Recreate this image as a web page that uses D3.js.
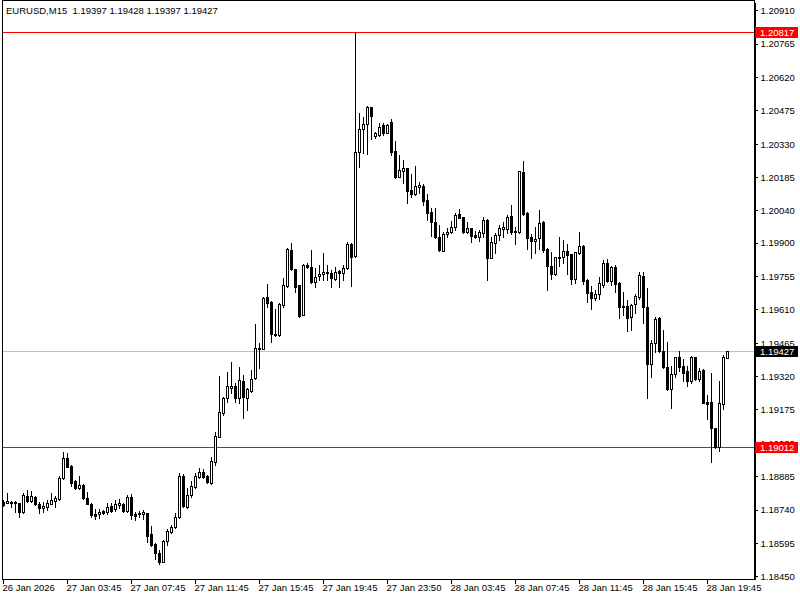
<!DOCTYPE html>
<html>
<head>
<meta charset="utf-8">
<script src="https://cdn.jsdelivr.net/npm/d3@7"></script>
<style>
  html, body { margin: 0; padding: 0; background: #ffffff; }
  svg text { font-family: "Liberation Sans", Arial, sans-serif; font-size: 9.5px; fill: #000; }
</style>
</head>
<body>
<div id="chart"></div>
<script>
// EURUSD M15 candles (oldest first)
const open = [
    1.18771,1.18770,1.18773,1.18773,1.18767,1.18728,1.18800,1.18779,1.18796,1.18763,
    1.18748,1.18753,1.18764,1.18779,1.18786,1.18876,1.18963,1.18929,1.18866,1.18835,
    1.18847,1.18789,1.18764,1.18721,1.18719,1.18735,1.18731,1.18757,1.18743,1.18760,
    1.18764,1.18734,1.18793,1.18721,1.18721,1.18721,1.18724,1.18633,1.18589,1.18550,
    1.18513,1.18603,1.18641,1.18663,1.18706,1.18886,1.18753,1.18803,1.18840,1.18880,
    1.18902,1.18886,1.18854,1.18948,1.19057,1.19158,1.19224,1.19270,1.19277,1.19224,
    1.19299,1.19224,1.19257,1.19311,1.19438,1.19438,1.19665,1.19644,1.19503,1.19499,
    1.19629,1.19712,1.19868,1.19784,1.19716,1.19586,1.19803,1.19793,1.19730,1.19755,
    1.19763,1.19771,1.19770,1.19741,1.19776,1.19767,1.19789,1.19894,1.19842,1.20293,
    1.20393,1.20414,1.20488,1.20365,1.20368,1.20410,1.20378,1.20423,1.20299,1.20187,
    1.20213,1.20223,1.20129,1.20112,1.20143,1.20146,1.20086,1.20033,1.19991,1.19923,
    1.19865,1.19936,1.19948,1.19969,1.20023,1.20010,1.19948,1.19962,1.19934,1.19926,
    1.19943,1.19999,1.19835,1.19897,1.19934,1.19961,1.19960,1.20016,1.19952,1.19948,
    1.20206,1.20030,1.19923,1.19909,1.19919,1.19991,1.19873,1.19798,1.19764,1.19839,
    1.19839,1.19864,1.19851,1.19741,1.19857,1.19886,1.19738,1.19684,1.19661,1.19677,
    1.19716,1.19810,1.19734,1.19793,1.19724,1.19626,1.19626,1.19575,1.19632,1.19663,
    1.19755,1.19622,1.19371,1.19463,1.19571,1.19429,1.19358,1.19264,1.19328,1.19402,
    1.19364,1.19342,1.19300,1.19402,1.19306,1.19347,1.19209,1.19206,1.19093,1.19013,
    1.19198,1.19397
];
const high = [
    1.18780,1.18812,1.18775,1.18775,1.18769,1.18811,1.18825,1.18822,1.18799,1.18774,
    1.18774,1.18782,1.18811,1.18799,1.18886,1.18989,1.18985,1.18932,1.18869,1.18886,
    1.18849,1.18818,1.18767,1.18741,1.18741,1.18738,1.18767,1.18767,1.18782,1.18785,
    1.18767,1.18803,1.18808,1.18731,1.18735,1.18738,1.18727,1.18669,1.18594,1.18564,
    1.18608,1.18654,1.18673,1.18724,1.18898,1.18895,1.18832,1.18864,1.18898,1.18919,
    1.18915,1.18888,1.18970,1.19078,1.19322,1.19231,1.19337,1.19383,1.19289,1.19361,
    1.19325,1.19267,1.19347,1.19545,1.19463,1.19663,1.19720,1.19645,1.19611,1.19637,
    1.19745,1.19876,1.19897,1.19786,1.19717,1.19806,1.19810,1.19868,1.19789,1.19803,
    1.19854,1.19803,1.19781,1.19796,1.19781,1.19803,1.19904,1.19897,1.20817,1.20462,
    1.20448,1.20494,1.20491,1.20382,1.20419,1.20419,1.20414,1.20436,1.20342,1.20281,
    1.20259,1.20225,1.20199,1.20233,1.20165,1.20153,1.20112,1.20049,1.20049,1.19977,
    1.19948,1.19962,1.19996,1.20028,1.20045,1.20012,1.19989,1.19964,1.19951,1.19955,
    1.20013,1.20003,1.19923,1.19941,1.19977,1.19991,1.20020,1.20064,1.19969,1.20213,
    1.20255,1.20033,1.19936,1.19969,1.20042,1.19994,1.19875,1.19861,1.19839,1.19923,
    1.19912,1.19894,1.19852,1.19861,1.19945,1.19888,1.19740,1.19712,1.19694,1.19750,
    1.19825,1.19829,1.19799,1.19803,1.19730,1.19687,1.19651,1.19634,1.19677,1.19771,
    1.19771,1.19702,1.19477,1.19578,1.19578,1.19521,1.19470,1.19364,1.19405,1.19429,
    1.19393,1.19364,1.19408,1.19405,1.19354,1.19350,1.19238,1.19335,1.19095,1.19299,
    1.19412,1.19428
];
const low = [
    1.18756,1.18767,1.18753,1.18731,1.18709,1.18727,1.18774,1.18774,1.18760,1.18727,
    1.18728,1.18738,1.18763,1.18753,1.18782,1.18873,1.18924,1.18844,1.18829,1.18828,
    1.18786,1.18763,1.18709,1.18698,1.18702,1.18721,1.18721,1.18731,1.18735,1.18746,
    1.18731,1.18731,1.18699,1.18695,1.18709,1.18699,1.18600,1.18582,1.18524,1.18502,
    1.18512,1.18586,1.18637,1.18659,1.18702,1.18753,1.18748,1.18796,1.18832,1.18876,
    1.18876,1.18857,1.18851,1.18934,1.19055,1.19151,1.19209,1.19245,1.19209,1.19202,
    1.19137,1.19173,1.19252,1.19306,1.19354,1.19437,1.19619,1.19470,1.19494,1.19494,
    1.19622,1.19709,1.19781,1.19687,1.19578,1.19584,1.19789,1.19726,1.19709,1.19738,
    1.19738,1.19738,1.19709,1.19738,1.19706,1.19738,1.19784,1.19712,1.19839,1.20228,
    1.20291,1.20285,1.20351,1.20354,1.20365,1.20368,1.20375,1.20281,1.20180,1.20184,
    1.20158,1.20074,1.20100,1.20107,1.20115,1.20064,1.19999,1.19930,1.19919,1.19865,
    1.19864,1.19923,1.19943,1.19955,1.20006,1.19943,1.19943,1.19904,1.19919,1.19909,
    1.19923,1.19738,1.19832,1.19857,1.19912,1.19923,1.19943,1.19937,1.19893,1.19943,
    1.20020,1.19873,1.19835,1.19857,1.19871,1.19861,1.19694,1.19742,1.19761,1.19799,
    1.19813,1.19764,1.19719,1.19726,1.19850,1.19719,1.19644,1.19611,1.19651,1.19654,
    1.19709,1.19730,1.19716,1.19684,1.19571,1.19586,1.19516,1.19521,1.19596,1.19654,
    1.19550,1.19226,1.19318,1.19426,1.19426,1.19354,1.19260,1.19183,1.19318,1.19344,
    1.19300,1.19277,1.19289,1.19303,1.19300,1.19202,1.19134,1.18948,1.19009,1.18996,
    1.19176,1.19397
];
const close = [
    1.18760,1.18777,1.18767,1.18767,1.18731,1.18803,1.18779,1.18799,1.18764,1.18748,
    1.18756,1.18770,1.18782,1.18792,1.18876,1.18963,1.18926,1.18857,1.18832,1.18847,
    1.18789,1.18764,1.18716,1.18712,1.18731,1.18727,1.18753,1.18735,1.18764,1.18767,
    1.18734,1.18796,1.18716,1.18712,1.18727,1.18731,1.18626,1.18586,1.18550,1.18513,
    1.18603,1.18647,1.18663,1.18709,1.18886,1.18757,1.18803,1.18843,1.18886,1.18902,
    1.18883,1.18859,1.18951,1.19060,1.19163,1.19224,1.19277,1.19277,1.19224,1.19303,
    1.19228,1.19263,1.19306,1.19441,1.19444,1.19658,1.19639,1.19502,1.19498,1.19634,
    1.19716,1.19871,1.19784,1.19709,1.19581,1.19803,1.19793,1.19730,1.19752,1.19764,
    1.19771,1.19767,1.19745,1.19774,1.19767,1.19789,1.19894,1.19837,1.20293,1.20393,
    1.20414,1.20488,1.20452,1.20375,1.20401,1.20378,1.20410,1.20296,1.20187,1.20216,
    1.20225,1.20126,1.20112,1.20148,1.20151,1.20082,1.20030,1.19991,1.19923,1.19868,
    1.19938,1.19948,1.19967,1.20020,1.20009,1.19946,1.19962,1.19930,1.19926,1.19948,
    1.19999,1.19835,1.19902,1.19934,1.19962,1.19969,1.20013,1.19948,1.19947,1.20212,
    1.20023,1.19922,1.19909,1.19916,1.19987,1.19868,1.19799,1.19763,1.19837,1.19832,
    1.19864,1.19846,1.19741,1.19858,1.19886,1.19735,1.19680,1.19661,1.19677,1.19724,
    1.19810,1.19734,1.19793,1.19719,1.19619,1.19619,1.19571,1.19629,1.19670,1.19760,
    1.19619,1.19371,1.19463,1.19568,1.19429,1.19361,1.19264,1.19328,1.19402,1.19361,
    1.19335,1.19300,1.19405,1.19306,1.19342,1.19205,1.19199,1.19093,1.19011,1.19202,
    1.19402,1.19427
];

// time axis: label every 16 bars
const timeTickIndex = [0, 16, 32, 48, 64, 80, 96, 112, 128, 144, 160, 176];
const timeLabels = ["26 Jan 2026", "27 Jan 03:45", "27 Jan 07:45", "27 Jan 11:45", "27 Jan 15:45",
    "27 Jan 19:45", "27 Jan 23:50", "28 Jan 03:45", "28 Jan 07:45", "28 Jan 11:45",
    "28 Jan 15:45", "28 Jan 19:45"];

// price scale labels
const priceTicks = [1.20910, 1.20765, 1.20620, 1.20475, 1.20330, 1.20185, 1.20040, 1.19900,
    1.19755, 1.19610, 1.19465, 1.19320, 1.19175, 1.19030, 1.18885, 1.18740, 1.18595, 1.18450];

// horizontal lines
const redLevels = [1.20817, 1.19012];
const lastPrice = 1.19427;
const title = "EURUSD,M15  1.19397 1.19428 1.19397 1.19427";

const width = 800;
const height = 600;
const plotLeft = 2, plotRight = 754, plotTop = 2, plotBottom = 579;

const svg = d3.select("#chart")
    .append("svg")
    .attr("width", width)
    .attr("height", height)
    .style("display", "block");

const x = d3.scaleLinear()
    .domain([0, open.length - 1])
    .range([3, 3 + 4 * (open.length - 1)]);

const y = d3.scaleLinear()
    .domain([1.18438, 1.20946])
    .range([plotBottom, plotTop]);

const candles = open.map((o, i) => ({ i: i, o: o, h: high[i], l: low[i], c: close[i] }));

// frame: top, left, bottom (the right side is the price axis line)
svg.append("path")
    .attr("d", `M${plotRight + 0.5},0.5 H${plotLeft + 0.5} V${plotBottom + 0.5} H${plotRight + 0.5} V0`)
    .attr("fill", "none")
    .attr("stroke", "#000")
    .attr("shape-rendering", "crispEdges");

// level lines
svg.append("line")
    .attr("x1", plotLeft + 1).attr("x2", plotRight)
    .attr("y1", Math.round(y(lastPrice)) + 0.5).attr("y2", Math.round(y(lastPrice)) + 0.5)
    .attr("stroke", "#c0c0c0")
    .attr("shape-rendering", "crispEdges");

svg.selectAll("line.level")
    .data(redLevels)
    .enter()
    .append("line")
    .attr("class", "level")
    .attr("x1", plotLeft + 1).attr("x2", plotRight)
    .attr("y1", d => Math.round(y(d)) + 0.5).attr("y2", d => Math.round(y(d)) + 0.5)
    .attr("stroke", "#ff0000")
    .attr("shape-rendering", "crispEdges");

// candles
const gc = svg.append("g").attr("shape-rendering", "crispEdges");
const cx = d => Math.round(x(d.i));
const bodyTop = d => Math.round(y(Math.max(d.o, d.c)));
const bodyBot = d => Math.round(y(Math.min(d.o, d.c)));

gc.selectAll("line.wick")
    .data(candles)
    .enter()
    .append("line")
    .attr("class", "wick")
    .attr("x1", d => cx(d) + 0.5)
    .attr("x2", d => cx(d) + 0.5)
    .attr("y1", d => Math.round(y(d.h)))
    .attr("y2", d => Math.round(y(d.l)) + 1)
    .attr("stroke", "#000");

gc.selectAll("rect.body")
    .data(candles)
    .enter()
    .append("rect")
    .attr("class", "body")
    .attr("x", d => d.c > d.o ? cx(d) - 0.5 : cx(d) - 1)
    .attr("y", d => d.c > d.o ? bodyTop(d) + 0.5 : bodyTop(d))
    .attr("width", d => d.c > d.o ? 2 : 3)
    .attr("height", d => d.c > d.o ? Math.max(bodyBot(d) - bodyTop(d), 1) : Math.max(bodyBot(d) - bodyTop(d), 0) + 1)
    .attr("fill", d => d.c > d.o ? "#fff" : "#000")
    .attr("stroke", d => d.c > d.o ? "#000" : "none");

// price axis
const yAxis = d3.axisRight(y)
    .tickValues(priceTicks)
    .tickSize(3)
    .tickSizeOuter(0)
    .tickFormat(d3.format(".5f"));

const gy = svg.append("g")
    .attr("transform", `translate(${plotRight + 0.5},0)`)
    .call(yAxis)
    .attr("font-family", null)
    .attr("font-size", null);
gy.select(".domain").attr("stroke", "#000").attr("shape-rendering", "crispEdges");
gy.selectAll(".tick line").attr("stroke", "#000").attr("shape-rendering", "crispEdges");
gy.selectAll(".tick text").attr("x", 6).attr("dy", "0.35em");

// time axis
const xAxis = d3.axisBottom(x)
    .tickValues(timeTickIndex)
    .tickSize(4)
    .tickSizeOuter(0)
    .tickFormat((d, k) => timeLabels[k]);

const gx = svg.append("g")
    .attr("transform", `translate(0,${plotBottom + 0.5})`)
    .call(xAxis)
    .attr("font-family", null)
    .attr("font-size", null);
gx.select(".domain").remove();
gx.selectAll(".tick line").attr("stroke", "#000").attr("shape-rendering", "crispEdges");
gx.selectAll(".tick text")
    .attr("text-anchor", "start")
    .attr("x", -1)
    .attr("y", 5);

// price tags on the right scale
function priceTag(value, bg) {
    const yy = Math.round(y(value)) + 0.5;
    svg.append("rect")
        .attr("x", plotRight + 1)
        .attr("y", yy - 5.5)
        .attr("width", 43)
        .attr("height", 11)
        .attr("fill", bg);
    svg.append("text")
        .attr("x", plotRight + 6)
        .attr("y", yy)
        .attr("dy", "0.35em")
        .style("fill", "#fff")
        .text(d3.format(".5f")(value));
}
redLevels.forEach(v => priceTag(v, "#ff0000"));
priceTag(lastPrice, "#000");

// symbol caption
svg.append("text")
    .attr("x", 6)
    .attr("y", 14)
    .style("white-space", "pre")
    .text(title);
</script>
</body>
</html>
